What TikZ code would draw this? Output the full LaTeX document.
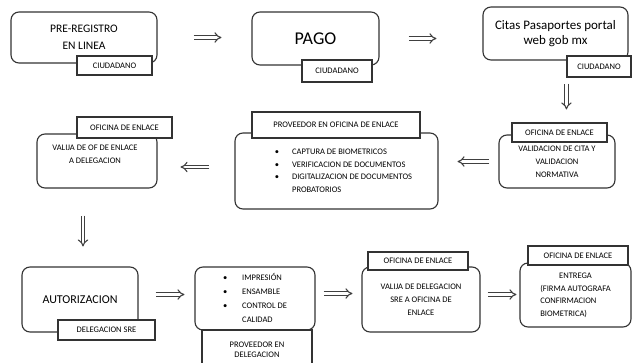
\documentclass[tikz,border=0pt]{standalone}
\usepackage{fontspec}
\setmainfont{Carlito}
\usepackage{tikz}
\usetikzlibrary{arrows.meta, calc}

\begin{document}
\begin{tikzpicture}[x=1pt, y=-1pt,
    stage/.style={rectangle, rounded corners=8pt, draw=black!80, line width=1.1pt, fill=white, inner sep=2pt, align=center},
    tag/.style={rectangle, draw=black!80, line width=1.1pt, fill=white, inner sep=1pt, align=center, font=\fontsize{8.5}{10}\selectfont},
    small/.style={font=\fontsize{8.5}{13}\selectfont},
    flow/.style={double=white, double distance=2.4pt, line width=1.1pt, draw=black!75, -{Implies}},
]
    \useasboundingbox (0,0) rectangle (632,362);
    % Row 1
    \node[stage, minimum width=146pt, minimum height=51pt, font=\fontsize{11.5}{17}\selectfont] (reg) at (84,37.5) {PRE-REGISTRO\\EN LINEA};
    \node[tag, minimum width=75pt, minimum height=19pt] (regtag) at (114.5,65.5) {CIUDADANO};
    \node[stage, minimum width=127pt, minimum height=53pt, font=\fontsize{18}{20}\selectfont] (pago) at (315.5,38.5) {PAGO};
    \node[tag, minimum width=70pt, minimum height=22pt] (pagotag) at (337,71) {CIUDADANO};
    \node[stage, minimum width=145pt, minimum height=53pt, font=\fontsize{13}{15}\selectfont] (citas) at (555.5,33.5) {Citas Pasaportes portal\\web gob mx};
    \node[tag, minimum width=64pt, minimum height=21pt] (citastag) at (599,66.5) {CIUDADANO};
    % Row 2
    \node[stage, small, minimum width=116pt, minimum height=53pt] (valid) at (557,161.5) {VALIDACION DE CITA Y\\VALIDACION\\NORMATIVA};
    \node[tag, minimum width=95pt, minimum height=19pt] (validtag) at (559.5,132.5) {OFICINA DE ENLACE};
    \node[stage, font=\fontsize{8.5}{12.7}\selectfont, minimum width=203pt, minimum height=76pt] (prov) at (336.5,171) {%
        \hspace*{14pt}\begin{tabular}{@{}c@{\hspace{13pt}}l@{}}
        \textbullet & CAPTURA DE BIOMETRICOS\\
        \textbullet & VERIFICACION DE DOCUMENTOS\\
        \textbullet & DIGITALIZACION DE DOCUMENTOS\\
                    & PROBATORIOS
        \end{tabular}};
    \node[tag, minimum width=168pt, minimum height=26pt] (provtag) at (336,125) {PROVEEDOR EN OFICINA DE ENLACE};
    \node[stage, minimum width=120pt, minimum height=54pt] (valija) at (97,161) {};
    \node[small, align=center, inner sep=0pt] (valijatxt) at (95,154.5) {VALIJA DE OF DE ENLACE\\A DELEGACION};
    \node[tag, minimum width=95pt, minimum height=21pt] (valijatag) at (124.5,127.5) {OFICINA DE ENLACE};
    % Row 3
    \node[stage, minimum width=116pt, minimum height=65pt, font=\fontsize{12}{14}\selectfont] (aut) at (80,299.5) {AUTORIZACION};
    \node[tag, minimum width=97pt, minimum height=20pt] (auttag) at (106.5,330) {DELEGACION SRE};
    \node[stage, font=\fontsize{8.5}{14}\selectfont, minimum width=120pt, minimum height=63pt] (impr) at (255,298.5) {%
        \begin{tabular}{@{}c@{\hspace{15pt}}l@{}}
        \textbullet & IMPRESIÓN\\
        \textbullet & ENSAMBLE\\
        \textbullet & CONTROL DE\\
                    & CALIDAD
        \end{tabular}};
    \node[tag, minimum width=110pt, minimum height=40pt] (imprtag) at (257,350) {PROVEEDOR EN\\DELEGACION};
    \node[stage, small, minimum width=118pt, minimum height=65pt] (sre) at (421,299.5) {VALIJA DE DELEGACION\\SRE A OFICINA DE\\ENLACE};
    \node[tag, minimum width=100pt, minimum height=18pt] (sretag) at (418,261) {OFICINA DE ENLACE};
    \node[stage, font=\fontsize{8.5}{12.5}\selectfont, minimum width=111pt, minimum height=64pt] (entr) at (575.5,295) {%
        \begin{tabular}{@{}l@{}}
        \multicolumn{1}{c}{ENTREGA}\\
        (FIRMA AUTOGRAFA\\
        CONFIRMACION\\
        BIOMETRICA)
        \end{tabular}};
    \node[tag, minimum width=100pt, minimum height=19pt] (entrtag) at (578,255.5) {OFICINA DE ENLACE};
    % Arrows
    \draw[flow, shorten <=36pt, shorten >=30pt] (reg.east) -- (reg.east -| pago.west);
    \draw[flow, shorten <=29pt, shorten >=46pt] (pago.east) -- (pago.east -| citas.west);
    \draw[flow, shorten <=6pt, shorten >=13pt] (citastag.south west) -- (citastag.south west |- validtag.north);
    \draw[flow, shorten <=9pt, shorten >=19pt] (valid.west) -- (valid.west -| prov.east);
    \draw[flow, shorten <=25pt, shorten >=23pt] ([yshift=4pt]prov.west) -- ([yshift=4pt]prov.west -| valija.east);
    \draw[flow, shorten <=27pt, shorten >=20pt] ([xshift=-14pt]valija.south) -- ([xshift=-14pt]valija.south |- aut.north);
    \draw[flow, shorten <=17pt, shorten >=10pt] ([yshift=5pt]aut.east) -- ([yshift=5pt]aut.east -| impr.west);
    \draw[flow, shorten <=8pt, shorten >=9pt] ([yshift=5pt]impr.east) -- ([yshift=5pt]impr.east -| sre.west);
    \draw[flow, shorten <=7pt, shorten >=3pt] ([yshift=5pt]sre.east) -- ([yshift=5pt]sre.east -| entr.west);
\end{tikzpicture}
\end{document}
